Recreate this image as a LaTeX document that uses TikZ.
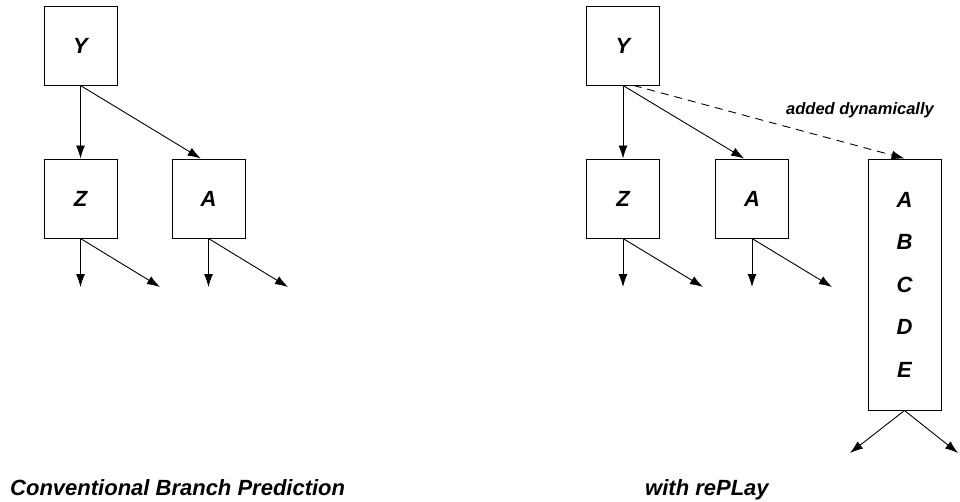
\documentclass[tikz,border=0pt]{standalone}
\usepackage{fontspec}
\setmainfont{Liberation Sans}
\usetikzlibrary{arrows.meta, calc}

\tikzset{
	blk/.style={draw, line width=1pt, minimum width=73pt, minimum height=79pt, inner sep=0pt,
		font=\fontsize{22}{25}\selectfont\bfseries\itshape},
	br/.style={-{Latex[length=13pt, width=9pt]}, line width=0.9pt},
	title/.style={anchor=base west, inner sep=0pt, font=\fontsize{22}{25}\selectfont\bfseries\itshape},
}

\begin{document}
\begin{tikzpicture}[x=1pt, y=-1pt]
	\useasboundingbox (0,0) rectangle (960,501);
	% conventional
	\node [blk] (Y) at (80.5,45.5) {Y};
	\node [blk] (Z) at (80.5,198.5) {Z};
	\node [blk] (A) at (208.5,198.5) {A};
	\coordinate (Z1) at (80.5,287);
	\coordinate (Z2) at (160,287);
	\coordinate (A1) at (208.5,287);
	\coordinate (A2) at (288,287);
	\draw [br] (Y.south) -- (Z.north);
	\draw [br] (Y.south) -- (A.101);
	\draw [br] (Z.south) -- (Z1);
	\draw [br] (Z.south) -- (Z2);
	\draw [br] (A.south) -- (A1);
	\draw [br] (A.south) -- (A2);
	\node [title] (conv) at (10,495) {Conventional Branch Prediction};
	% with rePLay
	\node [blk] (rY) at (623,45.5) {Y};
	\node [blk] (rZ) at (623,198.5) {Z};
	\node [blk] (rA) at (752,198.5) {A};
	\node [blk, minimum height=251pt, align=center,
		font=\fontsize{22}{42.5}\selectfont\bfseries\itshape] (tr) at (904.5,284.5) {A\\B\\C\\D\\E};
	\coordinate (rZ1) at (623,287);
	\coordinate (rZ2) at (703,287);
	\coordinate (rA1) at (752,287);
	\coordinate (rA2) at (832,287);
	\coordinate (tr1) at (850,453);
	\coordinate (tr2) at (958,453);
	\draw [br] (rY.south) -- (rZ.north);
	\draw [br] (rY.south) -- (rA.101);
	\draw [br, dash pattern=on 8pt off 6pt] (rY.285) -- (tr.north);
	\node [font=\fontsize{16.5}{19}\selectfont\bfseries\itshape] (dyn) at (860,110) {added dynamically};
	\draw [br] (rZ.south) -- (rZ1);
	\draw [br] (rZ.south) -- (rZ2);
	\draw [br] (rA.south) -- (rA1);
	\draw [br] (rA.south) -- (rA2);
	\draw [br] (tr.south) -- (tr1);
	\draw [br] (tr.south) -- (tr2);
	\node [title] (rep) at (645,495) {with rePLay};
\end{tikzpicture}
\end{document}
